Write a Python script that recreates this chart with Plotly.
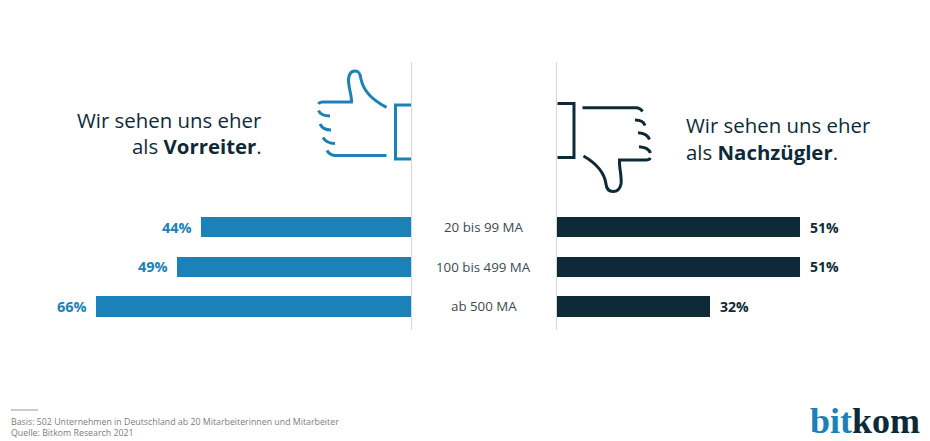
import plotly.graph_objects as go

# Survey results by company size
groups = ["20 bis 99 MA", "100 bis 499 MA", "ab 500 MA"]
vorreiter = [44, 49, 66]
nachzuegler = [51, 51, 32]

BLUE = "#1a82b8"
DARK = "#0e2a38"
GRAY = "#d4d6d8"
W, H = 930, 441
FONT = "Open Sans"


def px(x):
    return x / W


def py(y):
    return 1 - y / H


def path(*cmds):
    # Commands are written in page pixels and converted to paper fractions
    out = []
    for c in cmds:
        letter, nums = c[0], c[1:]
        pairs = [f"{px(nums[i]):.5f},{py(nums[i + 1]):.5f}" for i in range(0, len(nums), 2)]
        out.append(letter + " " + " ".join(pairs))
    return " ".join(out)


def stroke(color, *cmds, width=3):
    return dict(type="path", xref="paper", yref="paper", path=path(*cmds),
                line=dict(color=color, width=width), layer="above")


fig = go.Figure()
fig.add_trace(go.Bar(y=groups, x=vorreiter, orientation="h", xaxis="x", yaxis="y",
                     marker=dict(color=BLUE, line=dict(width=0)), width=0.51, showlegend=False))
fig.add_trace(go.Bar(y=groups, x=nachzuegler, orientation="h", xaxis="x2", yaxis="y",
                     marker=dict(color=DARK, line=dict(width=0)), width=0.51, showlegend=False))

annotations = []
for g, v in zip(groups, vorreiter):
    annotations.append(dict(x=v, y=g, xref="x", yref="y", text=f"<b>{v}%</b>", showarrow=False,
                            xanchor="right", xshift=-7, font=dict(family=FONT, size=14.5, color=BLUE)))
for g, v in zip(groups, nachzuegler):
    annotations.append(dict(x=v, y=g, xref="x2", yref="y", text=f"<b>{v}%</b>", showarrow=False,
                            xanchor="left", xshift=8, font=dict(family=FONT, size=14, color=DARK)))
for g in groups:
    annotations.append(dict(x=px(484), y=g, xref="paper", yref="y", text=g, showarrow=False,
                            xanchor="center", font=dict(family=FONT, size=13.3, color="#3c4a52")))


def page_text(x, y, text, size, color=DARK, anchor="left", family=FONT):
    # Annotations carry a small inner pad, taken back out so the text edge lands on x
    x_edge = x + 2 if anchor == "right" else x - 2
    annotations.append(dict(x=px(x_edge), y=py(y), xref="paper", yref="paper", text=text, showarrow=False,
                            xanchor=anchor, yanchor="middle", font=dict(family=family, size=size, color=color)))


page_text(262, 120, "Wir sehen uns eher", 20.4, anchor="right")
page_text(262, 146, "als <b>Vorreiter</b>.", 20.4, anchor="right")
page_text(686, 125, "Wir sehen uns eher", 20.4)
page_text(686, 152, "als <b>Nachzügler</b>.", 20.4)
page_text(11, 422, "Basis: 502 Unternehmen in Deutschland ab 20 Mitarbeiterinnen und Mitarbeiter", 8.8, "#7d7d7d")
page_text(11, 433, "Quelle: Bitkom Research 2021", 8.8, "#7d7d7d")
page_text(810, 421, f"<b><span style='color:{BLUE}'>bit</span>kom</b>", 36, DARK, family="Liberation Serif")

shapes = [
    # Column dividers
    dict(type="line", xref="paper", yref="paper", x0=px(411.5), x1=px(411.5), y0=py(62), y1=py(330),
         line=dict(color=GRAY, width=1)),
    dict(type="line", xref="paper", yref="paper", x0=px(556.5), x1=px(556.5), y0=py(62), y1=py(330),
         line=dict(color=GRAY, width=1)),
    # Footnote rule
    dict(type="line", xref="paper", yref="paper", x0=px(11), x1=px(38), y0=py(410), y1=py(410),
         line=dict(color="#9a9a9a", width=1)),
    # Thumb up
    stroke(BLUE, ("M", 411, 105), ("L", 395.5, 105), ("L", 395.5, 159), ("L", 411, 159)),
    stroke(BLUE, ("M", 386.5, 107.3), ("C", 376, 102, 364, 94, 361, 79), ("C", 360, 72, 358, 71, 355, 71),
           ("C", 351, 71, 349, 74, 348.5, 79), ("C", 348, 86, 352, 96, 351.5, 102), ("L", 323, 102),
           ("C", 320, 102, 319, 103, 318.5, 104)),
    stroke(BLUE, ("M", 318.5, 110.5), ("C", 320, 114, 324, 116, 330, 116)),
    stroke(BLUE, ("M", 320, 124), ("C", 322, 128, 326, 130, 331, 130)),
    stroke(BLUE, ("M", 323, 137.5), ("C", 325, 141, 329, 143.5, 335, 143.5)),
    stroke(BLUE, ("M", 327, 150.5), ("C", 329, 154, 332, 155.5, 336, 155.5), ("L", 386.5, 155.5)),
    # Thumb down
    stroke(DARK, ("M", 557.5, 103.5), ("L", 574, 103.5), ("L", 574, 157.5), ("L", 557.5, 157.5)),
    stroke(DARK, ("M", 582.5, 107.7), ("L", 636, 107.7), ("C", 639, 107.7, 641, 109, 642.5, 111.5)),
    stroke(DARK, ("M", 635, 120), ("C", 640, 120, 644, 122, 645, 125.5)),
    stroke(DARK, ("M", 638, 132.7), ("C", 644, 133, 648, 135, 649.5, 139.5)),
    stroke(DARK, ("M", 639, 146.7), ("C", 645, 147, 649, 149, 650.5, 153)),
    stroke(DARK, ("M", 650.5, 158), ("C", 649.5, 159.5, 648, 160, 646, 160), ("L", 619.5, 160),
           ("C", 619, 168, 622, 176, 621, 184), ("C", 620, 189, 617, 191.5, 613, 191.5),
           ("C", 609, 191.5, 606.5, 189, 606, 184), ("C", 604, 170, 594, 162, 583.5, 156)),
]

fig.update_layout(
    width=W, height=H, autosize=False,
    margin=dict(l=0, r=0, t=0, b=0),
    paper_bgcolor="#ffffff", plot_bgcolor="rgba(0,0,0,0)",
    bargap=0,
    # Both value axes share one scale of about 4.77 px per percentage point
    xaxis=dict(domain=[0, 411 / W], range=[411 / 4.77, 0], visible=False, fixedrange=True),
    xaxis2=dict(domain=[557 / W, 1], range=[0, 373 / 4.77], visible=False, fixedrange=True),
    yaxis=dict(domain=[0, 1], range=[(441 - 227) / 39.7, -227 / 39.7], type="category",
               categoryorder="array", categoryarray=groups, visible=False, fixedrange=True),
    annotations=annotations,
    shapes=shapes,
)

fig.write_html("out.html", config={"displayModeBar": False})
